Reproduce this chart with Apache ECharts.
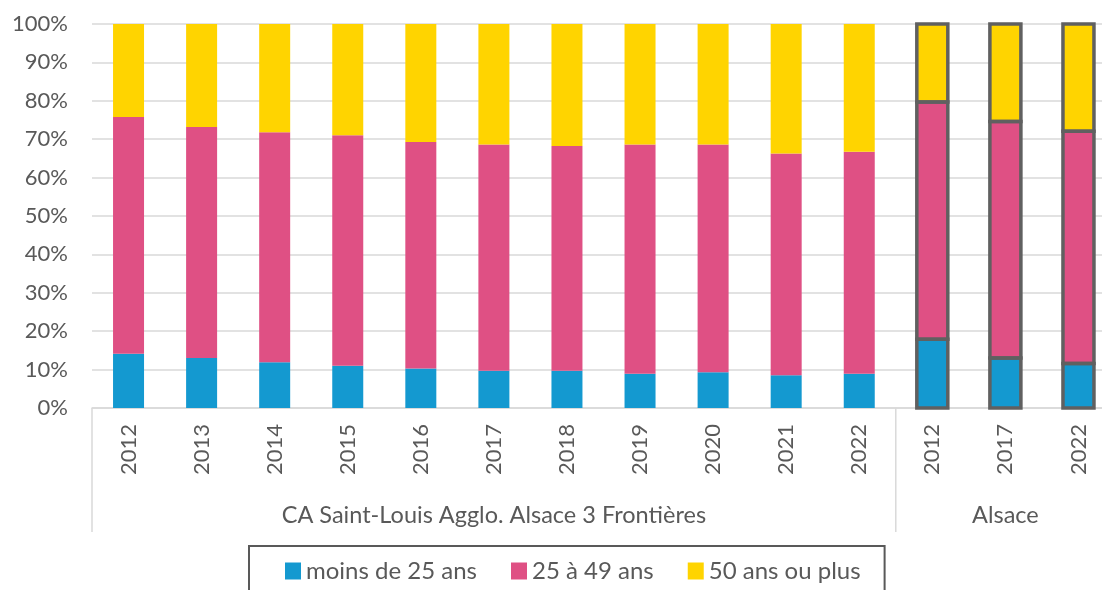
<!DOCTYPE html>
<html><head><meta charset="utf-8">
<script src="https://cdn.jsdelivr.net/npm/echarts@6/dist/echarts.min.js"></script>
<style>html,body{margin:0;padding:0;background:#fff;overflow:hidden}#c{width:1102px;height:590px}</style>
</head><body><div id="c"></div>
<script>
// ---- data ----
const years = ['2012','2013','2014','2015','2016','2017','2018','2019','2020','2021','2022','2012','2017','2022'];
const groupNames = ['CA Saint-Louis Agglo. Alsace 3 Frontières', 'Alsace'];
const groupSizes = [11, 3];
const seriesNames = ['moins de 25 ans', '25 à 49 ans', '50 ans ou plus'];
const under25   = [14.1, 13.0, 11.9, 11.0, 10.3, 9.7, 9.7, 8.9, 9.3, 8.5, 8.9, 17.9, 13.0, 11.6];
const age25to49 = [61.7, 60.2, 59.9, 60.0, 59.0, 58.9, 58.5, 59.7, 59.3, 57.8, 57.8, 61.8, 61.6, 60.5];
const age50plus = [24.2, 26.8, 28.2, 29.0, 30.7, 31.4, 31.8, 31.4, 31.4, 33.7, 33.3, 20.3, 25.4, 27.9];

// ---- build ----
const groupOf = [];
groupSizes.forEach((n, g) => { for (let i = 0; i < n; i++) groupOf.push(g); });
const keys = years.map((y, i) => groupOf[i] + ':' + y);
const colors = ['#1499D0', '#DF5084', '#FFD400'];
const FONT = 'Lato';
const outlineGroup = 1;
const BAR_W = 31;
const stacks = [under25, age25to49, age50plus];

const outlineData = [];
groupOf.forEach((g, i) => { if (g === outlineGroup) outlineData.push([i]); });

const chart = echarts.init(document.getElementById('c'), null, { renderer: 'canvas' });
const option = {
  animation: false,
  backgroundColor: '#ffffff',
  color: colors,
  grid: { left: 92, width: 1023, top: 24, bottom: 182, containLabel: false, outerBoundsMode: 'none' },
  legend: {
    left: 249, top: 546,
    padding: [13, 24, 20, 36],
    borderColor: '#595959', borderWidth: 2,
    itemWidth: 16, itemHeight: 17, itemGap: 34,
    icon: 'rect',
    textStyle: { fontFamily: FONT, fontSize: 24, color: '#595959' },
    data: seriesNames
  },
  xAxis: {
    type: 'category',
    data: keys,
    axisLine: { lineStyle: { color: '#D9D9D9', width: 1.5 } },
    axisTick: { show: false },
    axisLabel: {
      rotate: 90, margin: 16, interval: 0,
      fontFamily: FONT, fontSize: 22, color: '#595959',
      formatter: v => v.split(':')[1]
    }
  },
  yAxis: {
    type: 'value', min: 0, max: 100, interval: 10,
    axisLine: { show: false }, axisTick: { show: false },
    splitLine: { lineStyle: { color: '#D9D9D9', width: 1.5 } },
    axisLabel: { formatter: '{value}%', margin: 24, fontFamily: FONT, fontSize: 22, color: '#595959' }
  },
  series: stacks.map((vals, k) => ({
    name: seriesNames[k], type: 'bar', stack: 'total', barWidth: BAR_W,
    data: vals
  })).concat([{
    type: 'custom',
    z: 5,
    silent: true,
    encode: { x: 0 },
    data: outlineData,
    renderItem: function (params, api) {
      const i = api.value(0);
      const children = [];
      let base = 0;
      stacks.forEach(vals => {
        const top = base + vals[i];
        const p0 = api.coord([i, base]);
        const p1 = api.coord([i, top]);
        children.push({
          type: 'rect',
          shape: { x: p0[0] - BAR_W / 2, y: p1[1], width: BAR_W, height: p0[1] - p1[1] },
          style: { fill: 'none', stroke: '#606060', lineWidth: 3.5 }
        });
        base = top;
      });
      return { type: 'group', children };
    }
  }])
};
chart.setOption(option);

// group separators & labels, positioned through the axes
const xs = keys.map(k => chart.convertToPixel({ xAxisIndex: 0 }, k));
const band = xs[1] - xs[0];
const y0 = chart.convertToPixel({ yAxisIndex: 0 }, 0);
const bounds = [xs[0] - band / 2];
let idx = 0;
groupSizes.forEach(n => { idx += n; bounds.push(xs[idx - 1] + band / 2); });
const elements = [];
bounds.forEach(x => elements.push({
  type: 'line', shape: { x1: x, y1: y0, x2: x, y2: y0 + 124 },
  style: { stroke: '#D9D9D9', lineWidth: 1.5 }, silent: true
}));
groupNames.forEach((name, g) => elements.push({
  type: 'text', x: (bounds[g] + bounds[g + 1]) / 2, y: y0 + 107,
  style: { text: name, fontFamily: FONT, fontSize: 23.5, fill: '#595959', align: 'center', verticalAlign: 'middle' },
  silent: true
}));
chart.setOption({ graphic: { elements } });
</script></body></html>
